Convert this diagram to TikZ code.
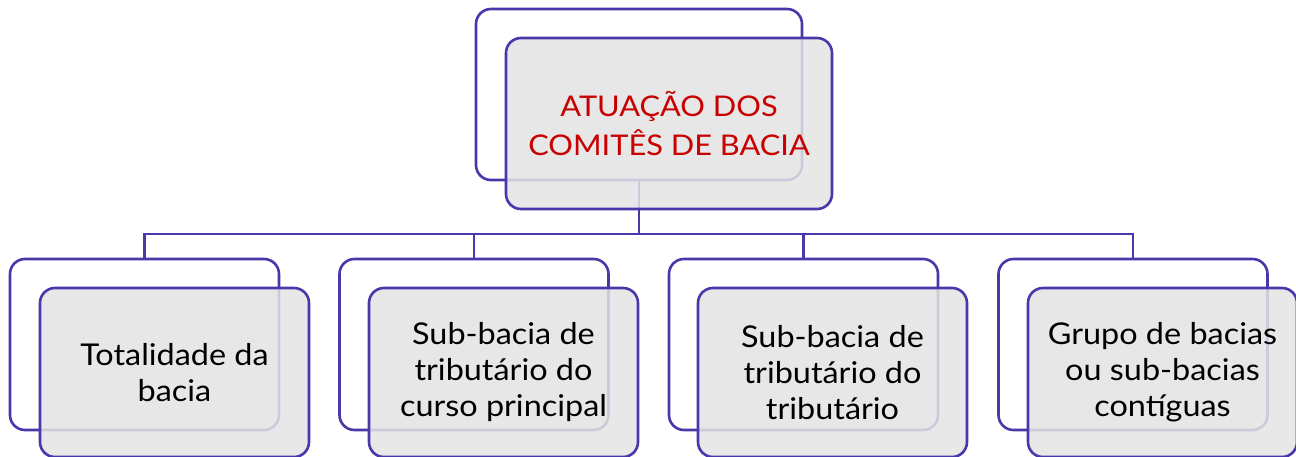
\documentclass[tikz,border=0pt]{standalone}
\usepackage{fontspec}
\setmainfont{Lato}[FakeStretch=1.08]
\definecolor{edge}{RGB}{72,56,170}
\definecolor{boxfill}{RGB}{228,228,228}
\definecolor{titlered}{RGB}{200,0,0}
\begin{document}
\begin{tikzpicture}[x=1pt,y=-1pt,
  backbox/.style={draw=edge,line width=2.6pt,rounded corners=15pt,fill=white,inner sep=0pt},
  frontbox/.style={draw=edge,line width=2.6pt,rounded corners=15pt,fill=boxfill,fill opacity=0.86,text opacity=1,inner sep=0pt,align=center,font=\fontsize{30}{36}\selectfont},
  conn/.style={draw=edge,line width=2.6pt}]
\useasboundingbox (0,0) rectangle (1296,457);
% top
\node[backbox,minimum width=326pt,minimum height=171pt] (tb) at (639,94.5) {};
% bottom back boxes
\node[backbox,minimum width=269pt,minimum height=171pt] (b1) at (144.5,344.5) {};
\node[backbox,minimum width=269pt,minimum height=171pt] (b2) at (474,344.5) {};
\node[backbox,minimum width=269pt,minimum height=171pt] (b3) at (803.5,344.5) {};
\node[backbox,minimum width=269pt,minimum height=171pt] (b4) at (1133,344.5) {};
% connectors
\coordinate (bus) at (639,234);
\draw[conn] (tb.south) -- (bus);
\draw[conn] (b1.north) |- (bus) -| (b4.north);
\draw[conn] (b2.north) -- (b2.north |- bus);
\draw[conn] (b3.north) -- (b3.north |- bus);
% front boxes
\node[frontbox,minimum width=326pt,minimum height=171pt,text=titlered,font=\fontsize{28.5}{39}\selectfont] (tf) at (669,123.5) {ATUAÇÃO DOS\\COMITÊS DE BACIA};
\node[frontbox,minimum width=269pt,minimum height=169pt] (f1) at (174.5,372.5) {Totalidade da\\bacia};
\node[frontbox,minimum width=269pt,minimum height=169pt] (f2) at (503.5,372.5) {Sub-bacia de\\tributário do\\curso principal};
\node[frontbox,minimum width=269pt,minimum height=169pt] (f3) at (832.5,372.5) {Sub-bacia de\\tributário do\\tributário};
\node[frontbox,minimum width=269pt,minimum height=169pt] (f4) at (1162.5,372.5) {Grupo de bacias\\ou sub-bacias\\contíguas};
\end{tikzpicture}
\end{document}
